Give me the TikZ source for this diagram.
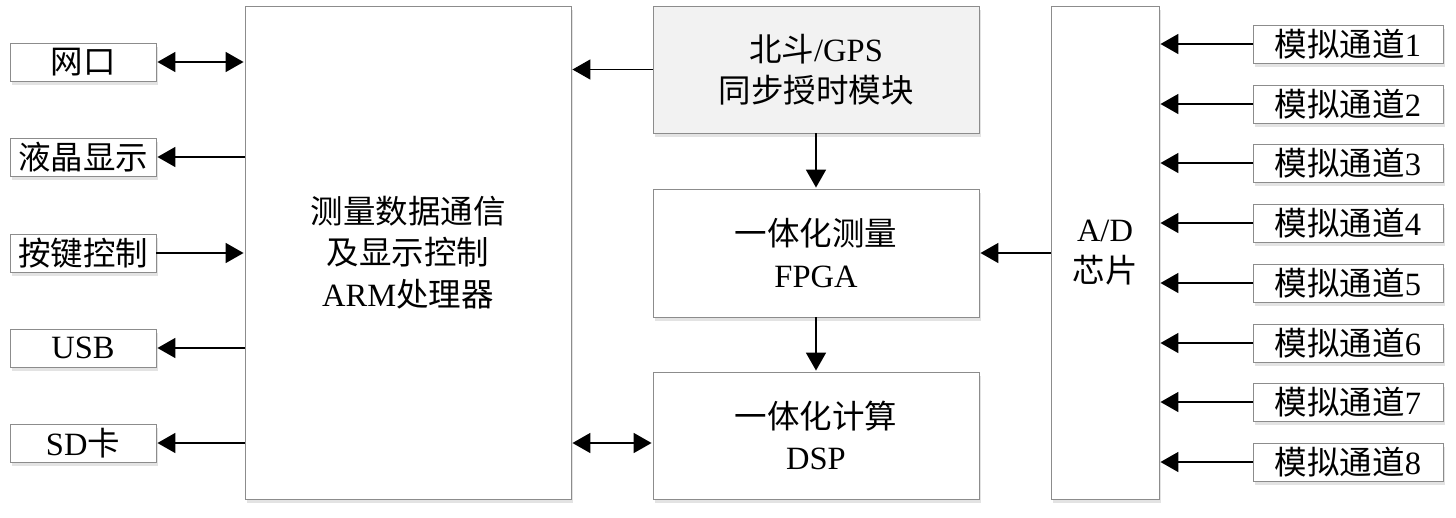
\documentclass[tikz,border=0pt]{standalone}
\usepackage{fontspec}
\setmainfont{Liberation Serif}
\newfontfamily\cjk{Noto Sans CJK SC}
\usetikzlibrary{arrows.meta,shadows}
\newcommand\zh[1]{{\cjk #1}}
\begin{document}
\begin{tikzpicture}[x=1pt,y=-1pt,
 box/.style={draw=black!45, line width=0.9pt, fill=white, inner sep=0pt, align=center,
   font=\fontsize{32.5}{41.5}\selectfont,
   drop shadow={opacity=0.22, shadow xshift=2pt, shadow yshift=-4pt}},
 tip/.style={},
 arr/.style={line width=1.8pt, -{Triangle[length=18pt 0,width=20pt 0]}, shorten >=1pt},
 darr/.style={line width=1.8pt, {Triangle[length=18pt 0,width=20pt 0]}-{Triangle[length=18pt 0,width=20pt 0]}, shorten >=1pt, shorten <=1pt}]
\useasboundingbox (0,0) rectangle (1456,517);
% left peripherals
\node[box, minimum width=146pt, minimum height=38pt] (wk) at (83,62) {\zh{网口}};
\node[box, minimum width=146pt, minimum height=38pt] (lcd) at (83,157) {\zh{液晶显示}};
\node[box, minimum width=146pt, minimum height=38pt] (key) at (83,253) {\zh{按键控制}};
\node[box, minimum width=146pt, minimum height=38pt] (usb) at (83,348) {USB};
\node[box, minimum width=146pt, minimum height=38pt] (sd) at (83,443) {SD\zh{卡}};
% ARM
\node[box, minimum width=326pt, minimum height=493pt] (arm) at (408,252.5) {\zh{测量数据通信}\\\zh{及显示控制}\\ARM\zh{处理器}};
% middle
\node[box, fill=black!5, minimum width=326pt, minimum height=127pt] (bd) at (816,69.5) {\zh{北斗}/GPS\\\zh{同步授时模块}};
\node[box, minimum width=326pt, minimum height=128pt] (fpga) at (816,253) {\zh{一体化测量}\\FPGA};
\node[box, minimum width=326pt, minimum height=127pt] (dsp) at (816,435.5) {\zh{一体化计算}\\DSP};
% A/D
\node[box, minimum width=108pt, minimum height=493pt] (ad) at (1105,252.5) {A/D\\\zh{芯片}};
% channels
\foreach \i/\y in {1/44,2/104,3/163,4/223,5/283,6/343,7/402,8/462}{
  \node[box, minimum width=190pt, minimum height=38pt] (ch\i) at (1348,\y) {\zh{模拟通道}\i};
  \draw[arr] (ch\i.west) -- (ch\i.west -| ad.east);
}
% connectors
\draw[darr] (wk.east) -- (wk.east -| arm.west);
\draw[arr] (lcd.east -| arm.west) -- (lcd.east);
\draw[arr] (key.east) -- (key.east -| arm.west);
\draw[arr] (usb.east -| arm.west) -- (usb.east);
\draw[arr] (sd.east -| arm.west) -- (sd.east);
\draw[arr] (bd.west) -- (bd.west -| arm.east);
\draw[darr] (sd.east -| arm.east) -- (sd.east -| dsp.west);
\draw[arr] (bd.south) -- (fpga.north);
\draw[arr] (fpga.south) -- (dsp.north);
\draw[arr] (fpga.east -| ad.west) -- (fpga.east);
\end{tikzpicture}
\end{document}
